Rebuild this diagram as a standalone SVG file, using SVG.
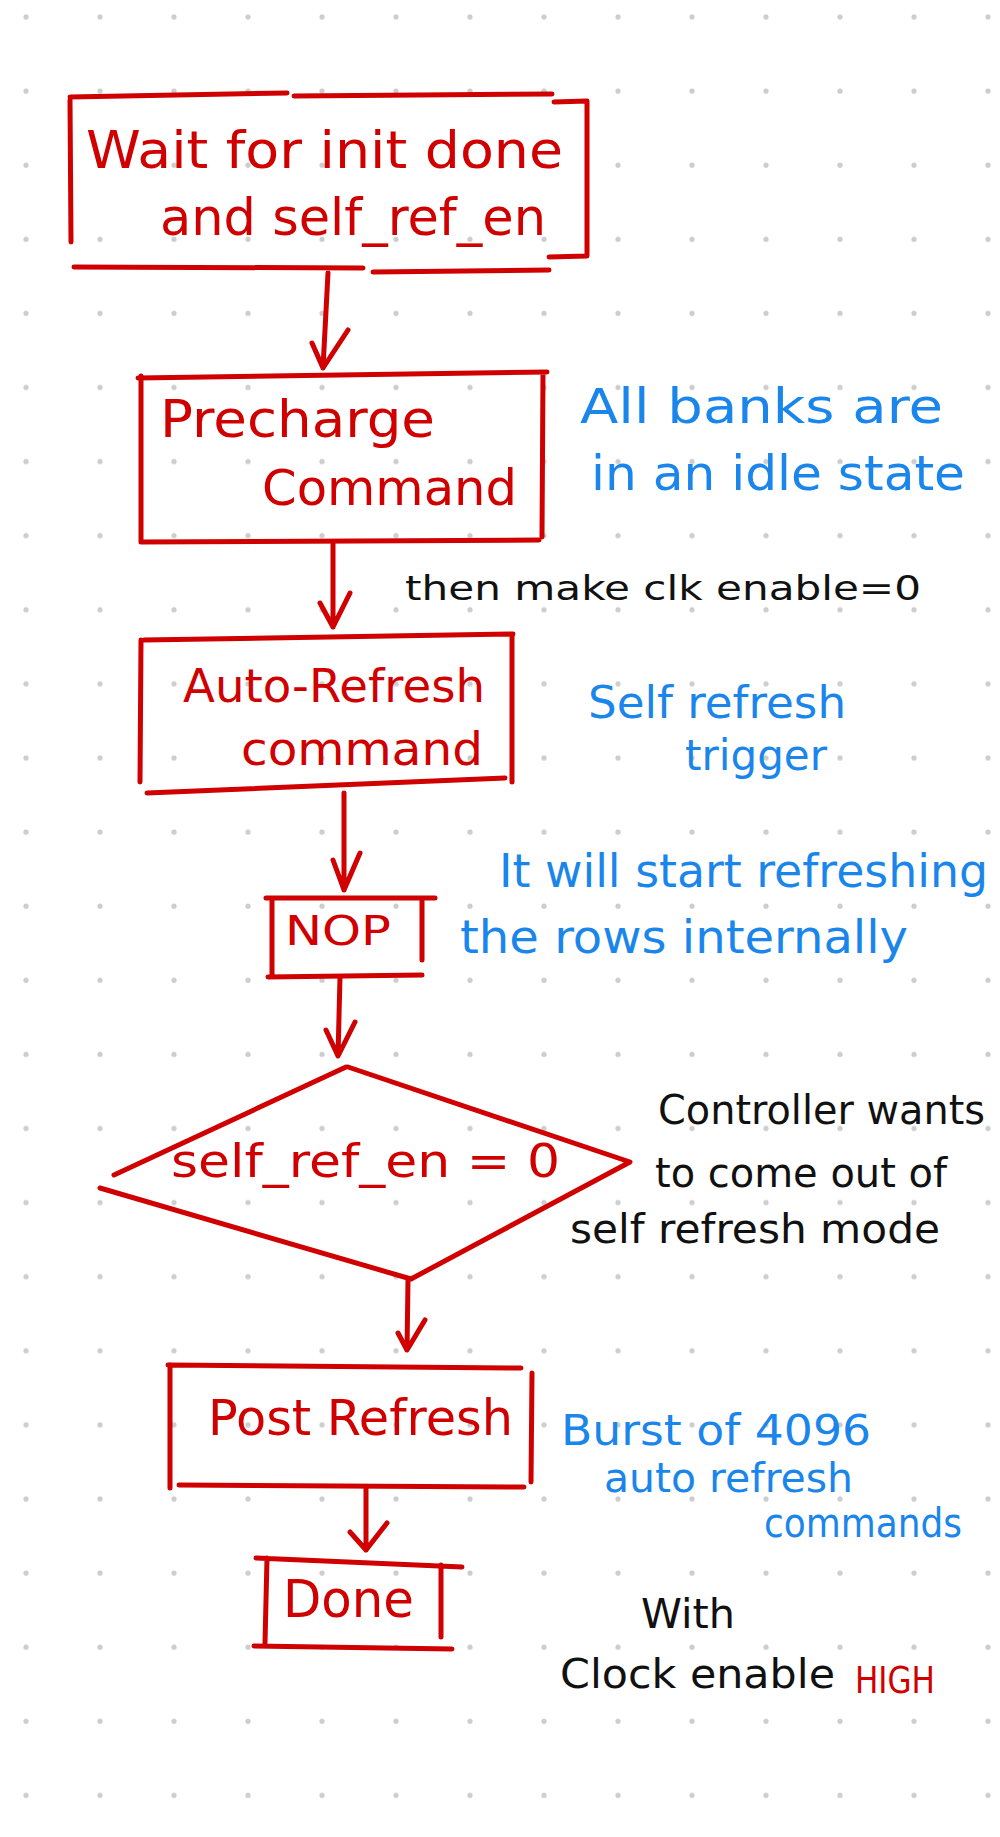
<svg xmlns="http://www.w3.org/2000/svg" width="1000" height="1837" viewBox="0 0 1000 1837">
<defs>
<pattern id="dots" x="0" y="0" width="74" height="74.1" patternUnits="userSpaceOnUse">
<circle cx="26" cy="17" r="2.6" fill="#cdcdcd"/>
</pattern>
<style>
.ln{fill:none;stroke:#d00000;stroke-width:5;stroke-linecap:round;stroke-linejoin:round}
.t{font-family:"DejaVu Sans","Liberation Sans",sans-serif}
.r{fill:#d00000}
.b{fill:#1a86ec}
.k{fill:#111111}
</style>
</defs>
<rect width="1000" height="1837" fill="#ffffff"/>
<rect width="1000" height="1837" fill="url(#dots)"/>

<g id="connectors">
<path class="ln" d="M328,273 L323,368 M312,343 L323,368 L348,330"/>
<path class="ln" d="M333,542 L333,627 M320,603 L333,627 L350,593"/>
<path class="ln" d="M344,793 L344,890 M333,860 L344,890 L360,853"/>
<path class="ln" d="M340,977 L338,1056 M326,1030 L338,1056 L355,1022"/>
<path class="ln" d="M408,1280 L407,1350 M398,1333 L407,1350 L425,1320"/>
<path class="ln" d="M366,1488 L366,1550 M350,1532 L366,1550 L387,1523"/>
</g>

<g id="node-wait">
<path class="ln" d="M70,97 L287,93 M294,96 L552,94 M70,100 L71,242 M554,102 L587,101 L587,256 L549,257 M74,267 L363,268 M373,272 L549,270"/>
<text class="t r" x="86" y="168" font-size="52" textLength="477" lengthAdjust="spacingAndGlyphs">Wait for init done</text>
<text class="t r" x="160" y="235" font-size="52" textLength="386" lengthAdjust="spacingAndGlyphs">and self_ref_en</text>
</g>

<g id="node-precharge">
<path class="ln" d="M138,378 L547,372 M141,376 L141,542 M543,374 L542,537 M141,542 L539,540"/>
<text class="t r" x="160" y="437" font-size="52" textLength="275" lengthAdjust="spacingAndGlyphs">Precharge</text>
<text class="t r" x="262" y="505" font-size="50" textLength="255" lengthAdjust="spacingAndGlyphs">Command</text>
</g>

<g id="note-banks">
<text class="t b" x="580" y="423" font-size="48" textLength="363" lengthAdjust="spacingAndGlyphs">All banks are</text>
<text class="t b" x="591" y="490" font-size="48" textLength="374" lengthAdjust="spacingAndGlyphs">in an idle state</text>
</g>

<g id="note-clk">
<text class="t k" x="405" y="600" font-size="34" textLength="516" lengthAdjust="spacingAndGlyphs">then make clk enable=0</text>
</g>

<g id="node-autorefresh">
<path class="ln" d="M144,640 L513,634 M141,640 L140,782 M512,636 L512,782 M147,793 L505,778"/>
<text class="t r" x="183" y="702" font-size="46" textLength="302" lengthAdjust="spacingAndGlyphs">Auto-Refresh</text>
<text class="t r" x="241" y="765" font-size="46" textLength="242" lengthAdjust="spacingAndGlyphs">command</text>
</g>

<g id="note-trigger">
<text class="t b" x="588" y="718" font-size="44" textLength="258" lengthAdjust="spacingAndGlyphs">Self refresh</text>
<text class="t b" x="685" y="770" font-size="42" textLength="142" lengthAdjust="spacingAndGlyphs">trigger</text>
</g>

<g id="node-nop">
<path class="ln" d="M266,898 L435,898 M272,898 L272,975 M422,900 L422,960 M268,977 L422,975"/>
<text class="t r" x="285" y="945" font-size="40" textLength="106" lengthAdjust="spacingAndGlyphs">NOP</text>
</g>

<g id="note-rows">
<text class="t b" x="499" y="887" font-size="46" textLength="489" lengthAdjust="spacingAndGlyphs">It will start refreshing</text>
<text class="t b" x="460" y="953" font-size="46" textLength="448" lengthAdjust="spacingAndGlyphs">the rows internally</text>
</g>

<g id="node-decision">
<path class="ln" d="M346,1067 L114,1175 M100,1188 L411,1279 M348,1067 L630,1162 L411,1279"/>
<text class="t r" x="171" y="1177" font-size="46" textLength="389" lengthAdjust="spacingAndGlyphs">self_ref_en = 0</text>
</g>

<g id="note-controller">
<text class="t k" x="658" y="1124" font-size="40" textLength="327" lengthAdjust="spacingAndGlyphs">Controller wants</text>
<text class="t k" x="655" y="1187" font-size="40" textLength="292" lengthAdjust="spacingAndGlyphs">to come out of</text>
<text class="t k" x="570" y="1243" font-size="40" textLength="370" lengthAdjust="spacingAndGlyphs">self refresh mode</text>
</g>

<g id="node-postrefresh">
<path class="ln" d="M168,1365 L521,1368 M170,1365 L170,1488 M532,1373 L531,1482 M179,1485 L524,1487"/>
<text class="t r" x="208" y="1435" font-size="50" textLength="305" lengthAdjust="spacingAndGlyphs">Post Refresh</text>
</g>

<g id="note-burst">
<text class="t b" x="561" y="1445" font-size="42" textLength="310" lengthAdjust="spacingAndGlyphs">Burst of 4096</text>
<text class="t b" x="604" y="1492" font-size="40" textLength="249" lengthAdjust="spacingAndGlyphs">auto refresh</text>
<text class="t b" x="764" y="1537" font-size="40" textLength="198" lengthAdjust="spacingAndGlyphs">commands</text>
</g>

<g id="node-done">
<path class="ln" d="M256,1558 L462,1567 M267,1558 L265,1643 M441,1565 L441,1637 M254,1646 L452,1649"/>
<text class="t r" x="283" y="1617" font-size="52" textLength="131" lengthAdjust="spacingAndGlyphs">Done</text>
</g>

<g id="note-clock">
<text class="t k" x="641" y="1628" font-size="40" textLength="94" lengthAdjust="spacingAndGlyphs">With</text>
<text class="t k" x="560" y="1688" font-size="40" textLength="275" lengthAdjust="spacingAndGlyphs">Clock enable</text>
<text class="t r" x="855" y="1693" font-size="38" textLength="80" lengthAdjust="spacingAndGlyphs">HIGH</text>
</g>
</svg>
